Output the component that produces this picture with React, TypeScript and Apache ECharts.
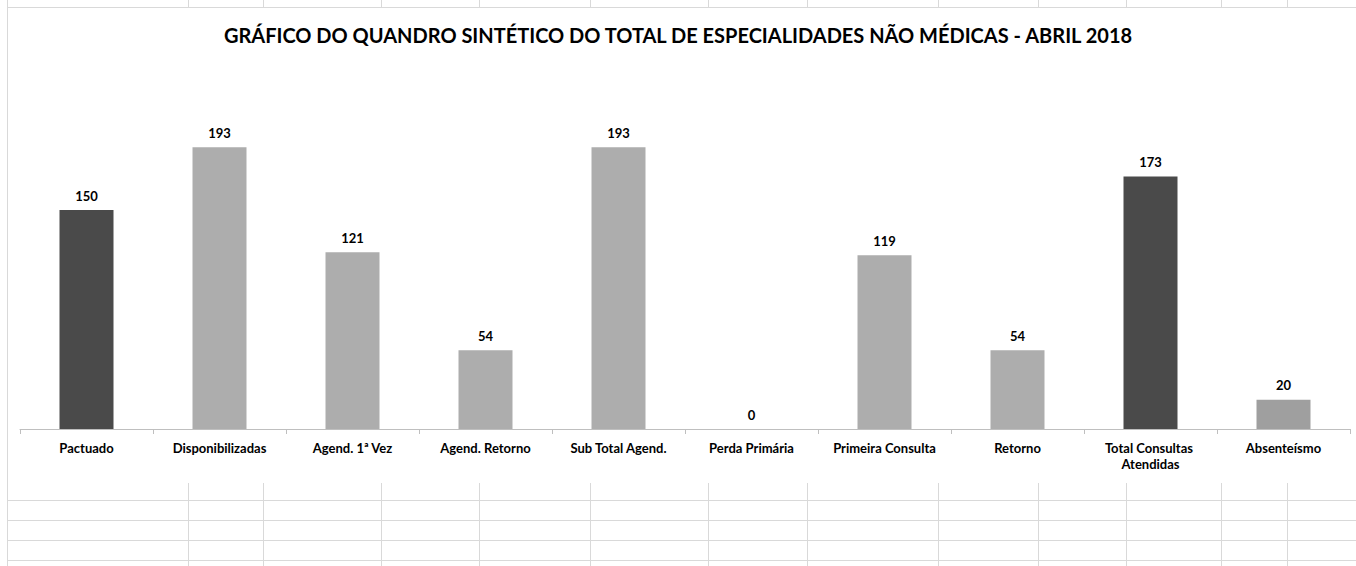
import React, { useEffect, useRef } from "react";
import * as echarts from "echarts";

const title = "GRÁFICO DO QUANDRO SINTÉTICO DO TOTAL DE ESPECIALIDADES NÃO MÉDICAS - ABRIL 2018";
const categories = [
  "Pactuado",
  "Disponibilizadas",
  "Agend. 1ª Vez",
  "Agend. Retorno",
  "Sub Total Agend.",
  "Perda Primária",
  "Primeira Consulta",
  "Retorno",
  "Total Consultas Atendidas",
  "Absenteísmo",
];
const values = [150, 193, 121, 54, 193, 0, 119, 54, 173, 20];

// styles
const barColors = ["#4a4a4a", "#adadad", "#adadad", "#adadad", "#adadad", "#adadad", "#adadad", "#adadad", "#4a4a4a", "#9f9f9f"];
const sheetCols = [188, 263, 381, 479, 590, 708, 807, 938, 1038, 1126, 1221, 1287];
const sheetRows = [500, 520, 540, 560];
const gridColor = "#d9d9d9";
const FONT = "Lato, 'Open Sans', sans-serif";

export default function App() {
  const ref = useRef<HTMLDivElement>(null);
  useEffect(() => {
    if (!ref.current) return;
    const chart = echarts.init(ref.current, undefined, { renderer: "svg" });
    const graphics: any[] = [];
    // spreadsheet grid (background)
    graphics.push({ type: "line", silent: true, z: -10, shape: { x1: 7.5, y1: 0, x2: 7.5, y2: 566 }, style: { stroke: gridColor, lineWidth: 1 } });
    graphics.push({ type: "line", silent: true, z: -10, shape: { x1: 7, y1: 7.5, x2: 1356, y2: 7.5 }, style: { stroke: gridColor, lineWidth: 1 } });
    sheetCols.forEach((x) => {
      graphics.push({ type: "line", silent: true, z: -10, shape: { x1: x + 0.5, y1: 0, x2: x + 0.5, y2: 7 }, style: { stroke: gridColor, lineWidth: 1 } });
      graphics.push({ type: "line", silent: true, z: -10, shape: { x1: x + 0.5, y1: 483, x2: x + 0.5, y2: 566 }, style: { stroke: gridColor, lineWidth: 1 } });
    });
    sheetRows.forEach((y) => {
      graphics.push({ type: "line", silent: true, z: -10, shape: { x1: 7, y1: y + 0.5, x2: 1356, y2: y + 0.5 }, style: { stroke: gridColor, lineWidth: 1 } });
    });
    chart.setOption({
      animation: false,
      backgroundColor: "#ffffff",
      title: {
        text: title,
        left: "center",
        top: 20,
        textStyle: { fontFamily: FONT, fontWeight: "bold", fontSize: 20, color: "#000000" },
      },
      graphic: graphics,
      grid: { left: 20, right: 6, top: 64, bottom: 137 },
      xAxis: {
        type: "category",
        data: categories,
        axisLine: { lineStyle: { color: "#bfbfbf", width: 1 } },
        axisTick: { show: true, length: 5, lineStyle: { color: "#bfbfbf" } },
        axisLabel: {
          interval: 0,
          margin: 11,
          width: 125,
          overflow: "break",
          lineHeight: 16,
          fontFamily: FONT,
          fontWeight: "bold",
          fontSize: 13,
          color: "#000000",
        },
      },
      yAxis: {
        type: "value",
        min: 0,
        max: 250,
        interval: 50,
        show: false,
        splitLine: { show: false },
      },
      series: [
        {
          type: "bar",
          data: values.map((v, i) => ({ value: v, itemStyle: { color: barColors[i] } })),
          barWidth: 54,
          label: {
            show: true,
            position: "top",
            distance: 8,
            fontFamily: FONT,
            fontWeight: "bold",
            fontSize: 13,
            color: "#000000",
          },
        },
      ],
    });
    return () => chart.dispose();
  }, []);
  return <div ref={ref} style={{ position: "fixed", left: 0, top: 0, width: 1356, height: 566 }} />;
}
